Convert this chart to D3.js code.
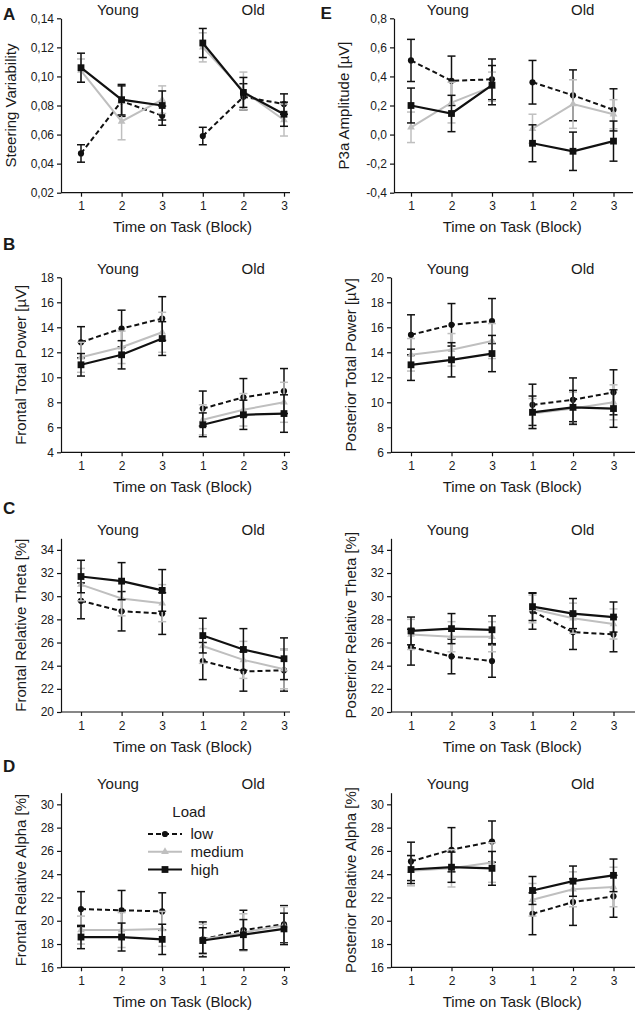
<!DOCTYPE html>
<html><head><meta charset="utf-8">
<script src="https://cdn.jsdelivr.net/npm/d3@7"></script>
<style>
body{margin:0;background:#fff}
svg{display:block}
text{font-family:"Liberation Sans",Arial,Helvetica,sans-serif;fill:#1a1a1a}
</style>
</head><body>
<svg id="chart" width="638" height="1015"></svg>
<script>
// ---------- DATA ----------
const blocks = [1, 2, 3, 4, 5, 6];
const blockLabels = ["1", "2", "3", "1", "2", "3"];
const groupNames = ["Young", "Old"];
const loadNames = ["low", "medium", "high"];
const xTitle = "Time on Task (Block)";
const legendTitle = "Load";

// A: Steering Variability
const steerLow = [0.047, 0.083, 0.073, 0.059, 0.086, 0.081];
const steerLowErr = [0.006, 0.0105, 0.0066, 0.006, 0.009, 0.007];
const steerMed = [0.104, 0.069, 0.084, 0.120, 0.090, 0.070];
const steerMedErr = [0.008, 0.0126, 0.0095, 0.010, 0.013, 0.011];
const steerHigh = [0.106, 0.084, 0.080, 0.123, 0.089, 0.074];
const steerHighErr = [0.010, 0.0105, 0.010, 0.010, 0.0103, 0.0083];
const steerTicks = [0.02, 0.04, 0.06, 0.08, 0.10, 0.12, 0.14];

// E: P3a Amplitude
const p3aLow = [0.51, 0.37, 0.38, 0.36, 0.27, 0.17];
const p3aLowErr = [0.145, 0.17, 0.14, 0.15, 0.175, 0.145];
const p3aMed = [0.05, 0.22, 0.33, 0.04, 0.21, 0.14];
const p3aMedErr = [0.105, 0.14, 0.10, 0.10, 0.167, 0.10];
const p3aHigh = [0.20, 0.145, 0.34, -0.06, -0.115, -0.045];
const p3aHighErr = [0.12, 0.125, 0.135, 0.127, 0.132, 0.138];
const p3aTicks = [-0.4, -0.2, 0.0, 0.2, 0.4, 0.6, 0.8];

// B left: Frontal Total Power
const ftpLow = [12.8, 13.9, 14.7, 7.5, 8.4, 8.9];
const ftpLowErr = [1.25, 1.47, 1.75, 1.4, 1.5, 1.8];
const ftpMed = [11.6, 12.4, 13.6, 6.6, 7.4, 8.0];
const ftpMedErr = [1.2, 1.3, 1.6, 1.2, 1.3, 1.6];
const ftpHigh = [11.0, 11.8, 13.1, 6.2, 7.0, 7.1];
const ftpHighErr = [0.9, 1.13, 1.35, 0.95, 1.17, 1.5];
const ftpTicks = [4, 6, 8, 10, 12, 14, 16, 18];

// B right: Posterior Total Power
const ptpLow = [15.4, 16.2, 16.5, 9.8, 10.2, 10.8];
const ptpLowErr = [1.6, 1.7, 1.8, 1.65, 1.75, 1.8];
const ptpMed = [13.8, 14.2, 14.9, 9.1, 9.5, 10.0];
const ptpMedErr = [1.3, 1.3, 1.4, 1.2, 1.3, 1.4];
const ptpHigh = [13.0, 13.4, 13.9, 9.2, 9.6, 9.5];
const ptpHighErr = [1.25, 1.37, 1.45, 1.3, 1.35, 1.5];
const ptpTicks = [6, 8, 10, 12, 14, 16, 18, 20];

// C left: Frontal Relative Theta
const frtLow = [29.6, 28.7, 28.5, 24.4, 23.5, 23.6];
const frtLowErr = [1.55, 1.7, 1.8, 1.6, 1.7, 1.8];
const frtMed = [31.0, 29.8, 29.4, 25.7, 24.5, 23.7];
const frtMedErr = [1.4, 1.5, 1.6, 1.5, 1.6, 1.7];
const frtHigh = [31.7, 31.3, 30.5, 26.6, 25.4, 24.6];
const frtHighErr = [1.4, 1.6, 1.8, 1.5, 1.8, 1.8];
const thetaTicks = [20, 22, 24, 26, 28, 30, 32, 34];

// C right: Posterior Relative Theta
const prtLow = [25.6, 24.8, 24.4, 28.7, 26.9, 26.7];
const prtLowErr = [1.55, 1.5, 1.4, 1.55, 1.5, 1.5];
const prtMed = [26.7, 26.5, 26.5, 28.9, 28.1, 27.6];
const prtMedErr = [1.3, 1.3, 1.3, 1.2, 1.3, 1.3];
const prtHigh = [27.0, 27.2, 27.1, 29.1, 28.5, 28.2];
const prtHighErr = [1.2, 1.3, 1.2, 1.2, 1.3, 1.3];

// D left: Frontal Relative Alpha
const fraLow = [21.0, 20.9, 20.8, 18.4, 19.2, 19.7];
const fraLowErr = [1.5, 1.7, 1.6, 1.5, 1.7, 1.6];
const fraMed = [19.2, 19.2, 19.3, 18.4, 19.0, 19.6];
const fraMedErr = [1.2, 1.5, 1.5, 1.3, 1.6, 1.6];
const fraHigh = [18.6, 18.6, 18.4, 18.3, 18.8, 19.3];
const fraHighErr = [1.0, 1.2, 1.3, 1.1, 1.3, 1.35];
const alphaTicks = [16, 18, 20, 22, 24, 26, 28, 30];

// D right: Posterior Relative Alpha
const praLow = [25.1, 26.1, 26.8, 20.6, 21.6, 22.1];
const praLowErr = [1.65, 1.9, 1.77, 1.8, 2.0, 1.8];
const praMed = [24.3, 24.5, 25.0, 21.8, 22.7, 22.9];
const praMedErr = [1.3, 1.6, 1.7, 1.4, 1.5, 1.7];
const praHigh = [24.4, 24.6, 24.5, 22.6, 23.4, 23.9];
const praHighErr = [1.2, 1.3, 1.45, 1.2, 1.3, 1.4];

// ---------- LAYOUT / STYLE ----------
const cols = {
  L: {axisX: 61, x1: 81, step: 40.6, endX: 290, titleX: 21},
  R: {axisX: 391, x1: 411, step: 40.5, endX: 635, titleX: 351}
};
const rows = [
  {bottom: 192.7, top: 18.3},
  {bottom: 452.3, top: 277.3},
  {bottom: 712, top: 538.3},
  {bottom: 967.3, top: 792.7}
];
const styles = {
  low: {color: "#111", width: 2, dash: "5,3", marker: "circle"},
  medium: {color: "#bfbfbf", width: 2, dash: null, marker: "triangle"},
  high: {color: "#111", width: 2.2, dash: null, marker: "square"}
};

const panels = [
  {letter: "A", lx: 3, ly: 19.5, col: "L", row: 0, title: "Steering Variability", domain: [0.02, 0.14], ticks: steerTicks, fmt: d => d3.format(".2f")(d).replace(".", ","),
   series: [[steerLow, steerLowErr], [steerMed, steerMedErr], [steerHigh, steerHighErr]], over: {titleX: 10.5}},
  {letter: "E", lx: 320.5, ly: 18.5, col: "R", row: 0, title: "P3a Amplitude [µV]", domain: [-0.4, 0.8], ticks: p3aTicks, fmt: d => d3.format(".1f")(d).replace(".", ",").replace("−", "-"),
   series: [[p3aLow, p3aLowErr], [p3aMed, p3aMedErr], [p3aHigh, p3aHighErr]], over: {axisX: 394, endX: 633, titleX: 343.5}},
  {letter: "B", lx: 3, ly: 250, col: "L", row: 1, title: "Frontal Total Power [µV]", domain: [4, 18], ticks: ftpTicks, fmt: d3.format("d"),
   series: [[ftpLow, ftpLowErr], [ftpMed, ftpMedErr], [ftpHigh, ftpHighErr]]},
  {col: "R", row: 1, title: "Posterior Total Power [µV]", domain: [6, 20], ticks: ptpTicks, fmt: d3.format("d"),
   series: [[ptpLow, ptpLowErr], [ptpMed, ptpMedErr], [ptpHigh, ptpHighErr]]},
  {letter: "C", lx: 3, ly: 514, col: "L", row: 2, title: "Frontal Relative Theta [%]", domain: [20, 35], ticks: thetaTicks, fmt: d3.format("d"),
   series: [[frtLow, frtLowErr], [frtMed, frtMedErr], [frtHigh, frtHighErr]]},
  {col: "R", row: 2, title: "Posterior Relative Theta [%]", domain: [20, 35], ticks: thetaTicks, fmt: d3.format("d"),
   series: [[prtLow, prtLowErr], [prtMed, prtMedErr], [prtHigh, prtHighErr]]},
  {letter: "D", lx: 3, ly: 772, col: "L", row: 3, title: "Frontal Relative Alpha [%]", domain: [16, 31], ticks: alphaTicks, fmt: d3.format("d"),
   series: [[fraLow, fraLowErr], [fraMed, fraMedErr], [fraHigh, fraHighErr]], legend: true},
  {col: "R", row: 3, title: "Posterior Relative Alpha [%]", domain: [16, 31], ticks: alphaTicks, fmt: d3.format("d"),
   series: [[praLow, praLowErr], [praMed, praMedErr], [praHigh, praHighErr]]}
];

const svg = d3.select("#chart");

function drawMarker(g, type, cx, cy, color) {
  if (type === "circle") {
    g.append("circle").attr("cx", cx).attr("cy", cy).attr("r", 3.1).attr("fill", color);
  } else if (type === "square") {
    g.append("rect").attr("x", cx - 3.4).attr("y", cy - 3.4).attr("width", 6.8).attr("height", 6.8).attr("fill", color);
  } else {
    g.append("path").attr("d", d3.symbol(d3.symbolTriangle, 26)()).attr("transform", `translate(${cx},${cy})`).attr("fill", color);
  }
}

panels.forEach(p => {
  const c = Object.assign({}, cols[p.col], p.over || {});
  const r = rows[p.row];
  const g = svg.append("g");
  const x = d3.scaleLinear().domain([1, 6]).range([c.x1, c.x1 + 5 * c.step]);
  const y = d3.scaleLinear().domain(p.domain).range([r.bottom, r.top]);

  // y axis
  const ya = g.append("g").attr("transform", `translate(${c.axisX},0)`)
    .call(d3.axisLeft(y).tickValues(p.ticks).tickFormat(p.fmt).tickSize(4).tickSizeOuter(0).tickPadding(3));
  ya.selectAll("text").style("font-size", "12px").attr("fill", "#1a1a1a");
  ya.selectAll("line,path").attr("stroke", "#111").attr("stroke-width", 1.2);

  // x axis
  const xa = g.append("g").attr("transform", `translate(0,${r.bottom})`)
    .call(d3.axisBottom(x).tickValues(blocks).tickFormat((d, i) => blockLabels[i]).tickSize(4).tickPadding(5));
  xa.select(".domain").remove();
  xa.append("line").attr("x1", c.axisX).attr("x2", c.endX).attr("y1", 0).attr("y2", 0).attr("stroke", "#111").attr("stroke-width", 1.2);
  xa.selectAll("text").style("font-size", "12px").attr("fill", "#1a1a1a");
  xa.selectAll(".tick line").attr("stroke", "#111").attr("stroke-width", 1.2);

  // titles
  g.append("text").attr("x", x(3.5)).attr("y", r.bottom + 39.5).attr("text-anchor", "middle").style("font-size", "15px").text(xTitle);
  g.append("text").attr("transform", `translate(${c.titleX + 5},${(r.top + r.bottom) / 2}) rotate(-90)`)
    .attr("text-anchor", "middle").style("font-size", "15px").text(p.title);
  g.append("text").attr("x", x(1.91)).attr("y", r.top - 3.5).attr("text-anchor", "middle").style("font-size", "15px").text(groupNames[0]);
  g.append("text").attr("x", x(5.24)).attr("y", r.top - 3.5).attr("text-anchor", "middle").style("font-size", "15px").text(groupNames[1]);
  if (p.letter) {
    g.append("text").attr("x", p.lx).attr("y", p.ly).style("font-size", "17px").style("font-weight", "bold").attr("fill", "#111").text(p.letter);
  }

  // series
  loadNames.forEach((ln, si) => {
    const st = styles[ln];
    const [vals, errs] = p.series[si];
    const sg = g.append("g");
    [[0, 3], [3, 6]].forEach(([a, b]) => {
      const idx = d3.range(a, b);
      idx.forEach(i => {
        const xx = x(blocks[i]);
        sg.append("line").attr("x1", xx).attr("x2", xx).attr("y1", y(vals[i] - errs[i])).attr("y2", y(vals[i] + errs[i]))
          .attr("stroke", st.color).attr("stroke-width", 1.5);
        [vals[i] - errs[i], vals[i] + errs[i]].forEach(v => {
          sg.append("line").attr("x1", xx - 4).attr("x2", xx + 4).attr("y1", y(v)).attr("y2", y(v))
            .attr("stroke", st.color).attr("stroke-width", 1.5);
        });
      });
      const line = d3.line().x(i => x(blocks[i])).y(i => y(vals[i]));
      sg.append("path").attr("d", line(idx)).attr("fill", "none").attr("stroke", st.color)
        .attr("stroke-width", st.width).attr("stroke-dasharray", st.dash);
      idx.forEach(i => drawMarker(sg, st.marker, x(blocks[i]), y(vals[i]), st.color));
    });
  });

  // legend
  if (p.legend) {
    const lg = g.append("g");
    lg.append("text").attr("x", 189).attr("y", 816.5).attr("text-anchor", "middle").style("font-size", "15px").text(legendTitle);
    const ys = [834, 851.7, 869.5];
    loadNames.forEach((ln, i) => {
      const st = styles[ln];
      lg.append("line").attr("x1", 148).attr("x2", 182).attr("y1", ys[i]).attr("y2", ys[i])
        .attr("stroke", st.color).attr("stroke-width", st.width).attr("stroke-dasharray", st.dash);
      drawMarker(lg, st.marker, 165, ys[i], st.color);
      lg.append("text").attr("x", 190.5).attr("y", ys[i]).attr("dy", "0.35em").style("font-size", "15px").text(ln);
    });
  }
});
</script>
</body></html>
